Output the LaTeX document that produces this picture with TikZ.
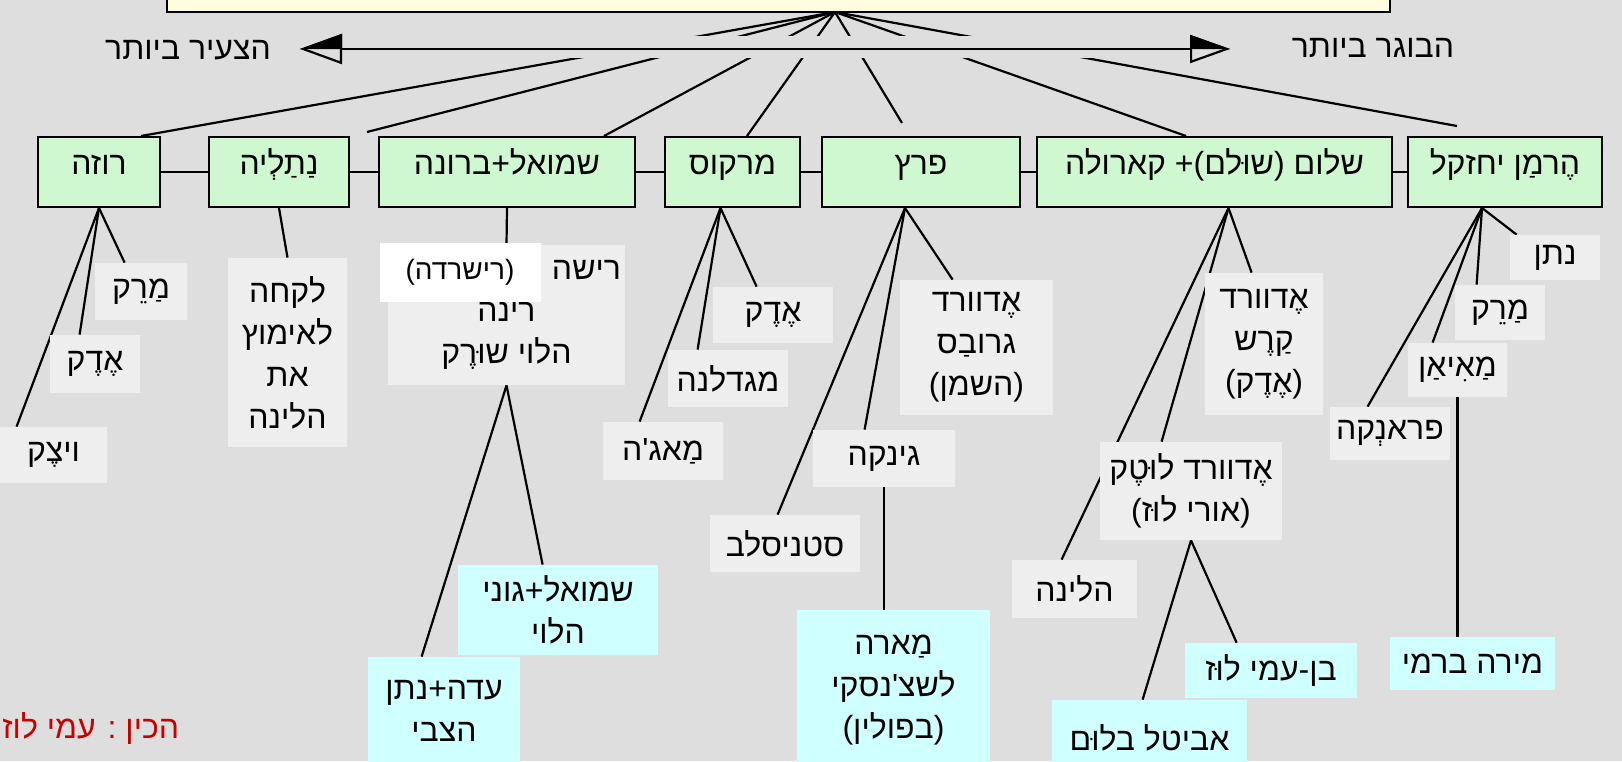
\documentclass[tikz,border=0pt]{standalone}
\usepackage{fontspec}
\newfontfamily\hebfont[Script=Hebrew]{Liberation Sans}
\TeXXeTstate=1
\usetikzlibrary{arrows.meta}
\pgfdeclarelayer{edges}
\pgfsetlayers{edges,main}
\definecolor{bggrey}{RGB}{222,222,222}
\definecolor{famgreen}{RGB}{208,248,208}
\definecolor{kidgrey}{RGB}{238,238,238}
\definecolor{grandcyan}{RGB}{208,255,255}
\definecolor{topyellow}{RGB}{255,253,222}
\definecolor{signred}{RGB}{200,0,0}
\newcommand\heb[1]{\beginR#1\endR}
\tikzset{
  family/.style={draw=black, line width=1pt, fill=famgreen, inner sep=0pt, text height=8pt, text depth=6pt},
  kid/.style={fill=kidgrey, inner sep=0pt, align=center},
  grand/.style={fill=grandcyan, inner sep=0pt, align=center},
  boxsize/.style 2 args={minimum width=#1*0.5pt, minimum height=#2*0.5pt},
  link/.style={line width=1.1pt},
}
\begin{document}
\begin{tikzpicture}[x=0.5pt,y=-0.5pt,font=\hebfont\fontsize{16}{21}\selectfont]
\useasboundingbox (0,0) rectangle (1622,761);
\begin{pgfonlayer}{edges}
\fill[bggrey] (0,0) rectangle (1622,761);
\end{pgfonlayer}
% top bar and the age axis
\node[family, fill=topyellow, boxsize={1223}{104}] (top) at (778.5,-40) {};
\coordinate (hub) at (835,12);
\coordinate (youngtip) at (300,49);
\coordinate (oldtip) at (1230,49);
\node (youngest) at (188,50) {\heb{הצעיר ביותר}};
\node (oldest) at (1373,48) {\heb{הבוגר ביותר}};
% first generation
\node[family, boxsize={122}{70}] (roza) at (99,172) {\heb{רוזה}};
\node[family, boxsize={140}{70}] (natalia) at (279,172) {\heb{נַתַלְיה}};
\node[family, boxsize={256}{70}] (samuel) at (507,172) {\heb{שמואל+ברונה}};
\node[family, boxsize={135}{70}] (markos) at (732.5,172) {\heb{מרקוס}};
\node[family, boxsize={198}{70}] (perets) at (921,172) {\heb{פרץ}};
\node[family, boxsize={355}{70}] (shalom) at (1214.5,172) {\heb{שלום (שוּלם)+ קארולה}};
\node[family, boxsize={194}{70}] (hermann) at (1505,172) {\heb{הֶרמַן יחזקל}};
\coordinate (natend) at (367,132);
\coordinate (perend) at (902,123);
\coordinate (herend) at (1457,126);
% second generation
\node[kid, boxsize={92}{57}] (marekA) at (141,291.5) {\heb{מַרֵק}};
\node[kid, boxsize={90}{58}] (edekA) at (95,364) {\heb{אֶדֶק}};
\node[kid, boxsize={107}{56}] (vitzek) at (53.5,455) {\heb{ויצֶק}};
\node[kid, boxsize={119}{189}] (adopt) at (287.5,352.5) {\heb{לקחה}\\\heb{לאימוץ}\\\heb{את}\\\heb{הלינה}};
\node[kid, boxsize={237}{140}] (rina) at (506.5,315) {\hspace*{80pt}\heb{רישה}\\\heb{רינה}\\\heb{הלוי שוּרֶק}};
\node[fill=white, inner sep=0pt, boxsize={161}{59}, font=\hebfont\fontsize{14}{17}\selectfont] (richarda) at (460,272.5) {\heb{(רישרדה)}};
\node[kid, boxsize={120}{56}] (edekB) at (773,315) {\heb{אֶדֶק}};
\node[kid, boxsize={120}{57}] (magda) at (728,378.5) {\heb{מגדלנה}};
\node[kid, boxsize={120}{58}] (maja) at (663,451) {\heb{מַאג'ה}};
\node[kid, boxsize={153}{135}] (grubas) at (976.5,347.5) {\heb{אֶדוורד}\\\heb{גרובַס}\\\heb{(השמן)}};
\node[kid, boxsize={142}{57}] (ginka) at (884,458.5) {\heb{גינקה}};
\node[kid, boxsize={150}{57}] (stanis) at (785,543.5) {\heb{סטניסלב}};
\node[kid, boxsize={118}{142}] (karsh) at (1264,344) {\heb{אֶדוורד}\\\heb{קַרֶש}\\\heb{(אֶדֶק)}};
\node[kid, boxsize={182}{98}] (lutek) at (1191,491) {\heb{אֶדוורד לוּטֶק}\\\heb{(אורי לוּז)}};
\node[kid, boxsize={125}{58}] (halina) at (1074.5,589) {\heb{הלינה}};
\node[kid, boxsize={90}{45}] (natan) at (1555,257.5) {\heb{נתן}};
\node[kid, boxsize={90}{55}] (marekB) at (1500,312.5) {\heb{מַרֵק}};
\node[kid, boxsize={99}{54}] (majan) at (1457.5,370) {\heb{מַאִיאַן}};
\node[kid, boxsize={120}{53}] (franka) at (1390,433.5) {\heb{פראנְקה}};
% third generation
\node[grand, boxsize={200}{90}] (samgoni) at (558,610) {\heb{שמואל+גוני}\\\heb{הלוי}};
\node[grand, boxsize={152}{108}] (adanatan) at (444,711) {\heb{עדה+נתן}\\\heb{הצבי}};
\node[grand, boxsize={193}{160}] (mara) at (893.5,690) {\heb{מַארה}\\\heb{לשצ'נסקי}\\\heb{(בפולין)}};
\node[grand, boxsize={195}{75}] (avital) at (1149.5,737.5) {\heb{אביטל בלוּם}};
\node[grand, boxsize={172}{55}] (benami) at (1271,670.5) {\heb{בן-עמי לוּז}};
\node[grand, boxsize={165}{53}] (mira) at (1472.5,663.5) {\heb{מירה ברמי}};
\node[text=signred, inner sep=0pt, anchor=west] (author) at (2,728) {\heb{הכין : עמי לוז}};
\begin{pgfonlayer}{edges}
% fan from the top bar, cut where the axis runs
\draw[link] (hub) -- ([xshift=-10pt]roza.north east);
\draw[link] (hub) -- (natend);
\draw[link] (hub) -- ([xshift=-16pt]samuel.north east);
\draw[link] (hub) -- ([xshift=41.5pt]markos.north west);
\draw[link] (hub) -- (perend);
\draw[link] (hub) -- ([xshift=75pt]shalom.north west);
\draw[link] (hub) -- (herend);
\fill[bggrey] (0,36) rectangle (1622,58);
% row of siblings
\draw[link] (roza) -- (natalia);
\draw[link] (natalia) -- (samuel);
\draw[link] (samuel) -- (markos);
\draw[link] (markos) -- (perets);
\draw[link] (perets) -- (shalom);
\draw[link] (shalom) -- (hermann);
% children
\draw[link] (roza.south) -- ([xshift=15pt]marekA.north west);
\draw[link] (roza.south) -- ([xshift=15pt]edekA.north west);
\draw[link] (roza.south) -- ([xshift=8.5pt]vitzek.north west);
\draw[link] (natalia.south) -- (adopt.north);
\draw[link] (samuel.south) -- (rina.north);
\draw[link] ([xshift=-6pt]markos.south) -- ([xshift=22pt]edekB.north west);
\draw[link] ([xshift=-6pt]markos.south) -- ([xshift=15pt]magda.north west);
\draw[link] ([xshift=-6pt]markos.south) -- ([xshift=18.5pt]maja.north west);
\draw[link] ([xshift=-8pt]perets.south) -- ([xshift=26.5pt]grubas.north west);
\draw[link] ([xshift=-8pt]perets.south) -- ([xshift=26pt]ginka.north west);
\draw[link] ([xshift=-8pt]perets.south) -- ([xshift=34pt]stanis.north west);
\draw[link] ([xshift=7pt]shalom.south) -- ([xshift=23.5pt]karsh.north west);
\draw[link] ([xshift=7pt]shalom.south) -- ([xshift=31pt]lutek.north west);
\draw[link] ([xshift=7pt]shalom.south) -- ([xshift=25pt]halina.north west);
\draw[link] ([xshift=-11.5pt]hermann.south) -- ([xshift=3.5pt]natan.north west);
\draw[link] ([xshift=-11.5pt]hermann.south) -- ([xshift=11pt]marekB.north west);
\draw[link] ([xshift=-11.5pt]hermann.south) -- ([xshift=12.5pt]majan.north west);
\draw[link] ([xshift=-11.5pt]hermann.south) -- ([xshift=19pt]franka.north west);
% grandchildren
\draw[link] (rina.south) -- ([xshift=42.5pt]samgoni.north west);
\draw[link] (rina.south) -- ([xshift=27pt]adanatan.north west);
\draw[link] (ginka.south) -- (ginka.south |- mara.north);
\draw[link] (lutek.south) -- ([xshift=45.5pt]avital.north west);
\draw[link] (lutek.south) -- ([xshift=26pt]benami.north west);
\draw[link] (majan.south) -- (majan.south |- mira.north);
\end{pgfonlayer}
% age axis
\draw[link, {Triangle[open,length=21pt,width=15pt]}-{Triangle[open,length=20pt,width=14pt]}] (youngtip) -- (oldtip);
\fill (youngtip) -- ++(42,-15) -- ++(0,15) -- cycle;
\fill (oldtip) -- ++(-40,-14) -- ++(0,14) -- cycle;
\end{tikzpicture}
\end{document}
